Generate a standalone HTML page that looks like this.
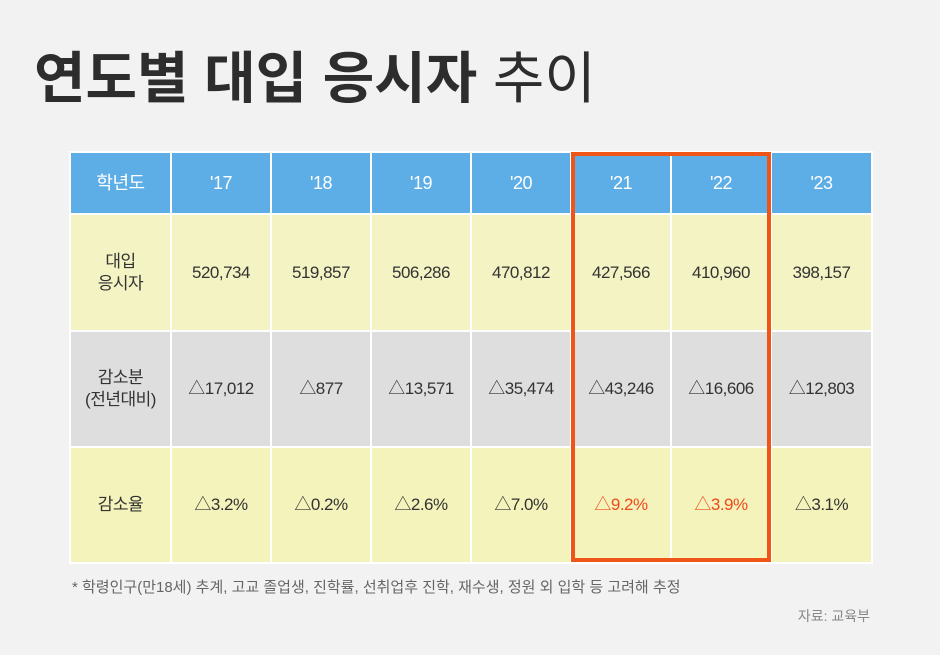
<!DOCTYPE html>
<html><head><meta charset="utf-8"><style>
body{margin:0;width:940px;height:655px;background:#f2f2f2;font-family:"Liberation Sans","Noto Sans CJK KR",sans-serif;position:relative;overflow:hidden;color:#333}
.t{position:absolute;left:34px;top:34px;font-size:56px;letter-spacing:0px;color:#2d2d2d;white-space:nowrap}
table{position:absolute;left:69px;top:151px;width:802px;border-collapse:collapse;table-layout:fixed}
td{border:2px solid #fff;text-align:center;font-size:17px;color:#333;padding:0;line-height:22px;letter-spacing:-0.5px;box-sizing:border-box}
tr.h td{background:#5dade6;color:#fff;height:62px;font-size:18px}
tr.a td{background:#f3f3c4;height:117px}
tr.b td{background:#dedede;height:116px}
tr.c td{background:#f3f3bb;height:116px}
.r{color:#f04a1a}
.box{position:absolute;left:571px;top:152px;width:192px;height:402px;border:4px solid #f05518}
.n{position:absolute;left:72px;top:576px;font-size:15px;color:#666}
.s{position:absolute;right:70px;top:606px;font-size:14px;color:#888}
</style></head><body>
<div class="t"><b>연도별 대입 응시자</b> 추이</div>
<table>
<colgroup><col style="width:101px"><col style="width:100px"><col style="width:100px"><col style="width:100px"><col style="width:100px"><col style="width:100px"><col style="width:100px"><col style="width:101px"></colgroup>
<tr class="h"><td>학년도</td><td>'17</td><td>'18</td><td>'19</td><td>'20</td><td>'21</td><td>'22</td><td>'23</td></tr>
<tr class="a"><td>대입<br>응시자</td><td>520,734</td><td>519,857</td><td>506,286</td><td>470,812</td><td>427,566</td><td>410,960</td><td>398,157</td></tr>
<tr class="b"><td>감소분<br>(전년대비)</td><td>△17,012</td><td>△877</td><td>△13,571</td><td>△35,474</td><td>△43,246</td><td>△16,606</td><td>△12,803</td></tr>
<tr class="c"><td>감소율</td><td>△3.2%</td><td>△0.2%</td><td>△2.6%</td><td>△7.0%</td><td class="r">△9.2%</td><td class="r">△3.9%</td><td>△3.1%</td></tr>
</table>
<div class="box"></div>
<div class="n">* 학령인구(만18세) 추계, 고교 졸업생, 진학률, 선취업후 진학, 재수생, 정원 외 입학 등 고려해 추정</div>
<div class="s">자료: 교육부</div>
</body></html>
